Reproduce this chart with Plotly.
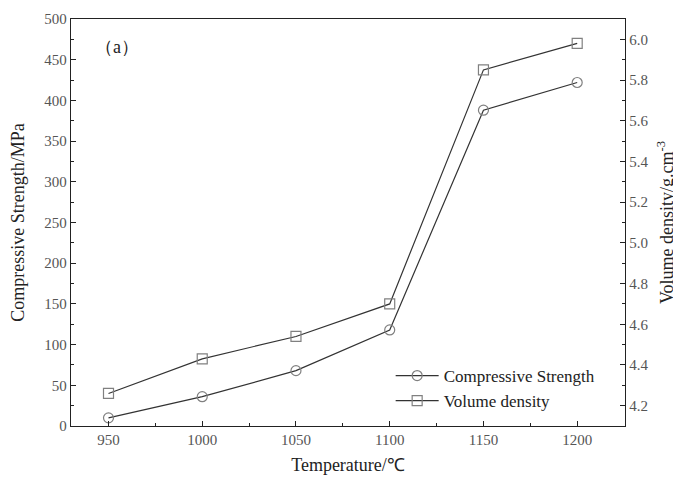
import plotly.graph_objects as go

temperature = [950, 1000, 1050, 1100, 1150, 1200]
compressive_strength = [10, 36, 68, 118, 388, 422]
volume_density = [4.26, 4.43, 4.54, 4.70, 5.85, 5.98]

FONT = "Liberation Serif, Times New Roman, serif"
LINE = "#333333"
MARK = "#808080"

fig = go.Figure()
fig.add_trace(go.Scatter(
    x=temperature, y=compressive_strength, name="Compressive Strength",
    mode="lines+markers",
    line=dict(color=LINE, width=1.2),
    marker=dict(symbol="circle-open", size=10, color=MARK, line=dict(width=1.2)),
    yaxis="y",
))
fig.add_trace(go.Scatter(
    x=temperature, y=volume_density, name="Volume density",
    mode="lines+markers",
    line=dict(color=LINE, width=1.2),
    marker=dict(symbol="square-open", size=10, color=MARK, line=dict(width=1.2)),
    yaxis="y2",
))

axis_common = dict(
    showgrid=False, zeroline=False, showline=True, linecolor="#222222", linewidth=1.3,
    ticks="inside", ticklen=5, tickcolor="#222222", tickwidth=1.2,
    tickfont=dict(family=FONT, size=15, color="#555555"),
    automargin=False,
)

fig.update_layout(
    width=681, height=477,
    margin=dict(l=63, r=64, t=11, b=59),
    paper_bgcolor="white", plot_bgcolor="white",
    font=dict(family=FONT, color="#222222"),
    xaxis=dict(
        range=[930, 1225.5], tickvals=[950, 1000, 1050, 1100, 1150, 1200],
        minor=dict(tickvals=[975, 1025, 1075, 1125, 1175, 1225], ticks="inside", ticklen=3, tickcolor="#222222"),
        mirror=True,
        title=dict(text="Temperature/℃", font=dict(family=FONT, size=18, color="#222222"), standoff=11),
        **axis_common,
    ),
    yaxis=dict(
        range=[0, 500], dtick=50, tick0=0,
        minor=dict(dtick=25, ticks="inside", ticklen=3, tickcolor="#222222"),
        mirror=True,
        title=dict(text="Compressive Strength/MPa", font=dict(family=FONT, size=18, color="#222222"), standoff=17),
        **axis_common,
    ),
    yaxis2=dict(
        range=[4.1, 6.1], tickvals=[4.2, 4.4, 4.6, 4.8, 5.0, 5.2, 5.4, 5.6, 5.8, 6.0],
        ticktext=["4.2", "4.4", "4.6", "4.8", "5.0", "5.2", "5.4", "5.6", "5.8", "6.0"],
        minor=dict(tickvals=[4.3, 4.5, 4.7, 4.9, 5.1, 5.3, 5.5, 5.7, 5.9], ticks="inside", ticklen=3, tickcolor="#222222"),
        overlaying="y", side="right",
        title=dict(text="Volume density/g.cm<sup>-3</sup>", font=dict(family=FONT, size=18, color="#222222"), standoff=12),
        **axis_common,
    ),
    legend=dict(
        x=0.577, y=0.167, xanchor="left", yanchor="top",
        bgcolor="rgba(0,0,0,0)", borderwidth=0,
        font=dict(family=FONT, size=17, color="#222222"),
        tracegroupgap=0, itemwidth=43,
    ),
    annotations=[dict(
        text="（a）", x=0.04, y=0.96, xref="paper", yref="paper",
        xanchor="left", yanchor="top", showarrow=False,
        font=dict(family=FONT, size=18, color="#222222"),
    )],
)

fig.write_html("out.html")
